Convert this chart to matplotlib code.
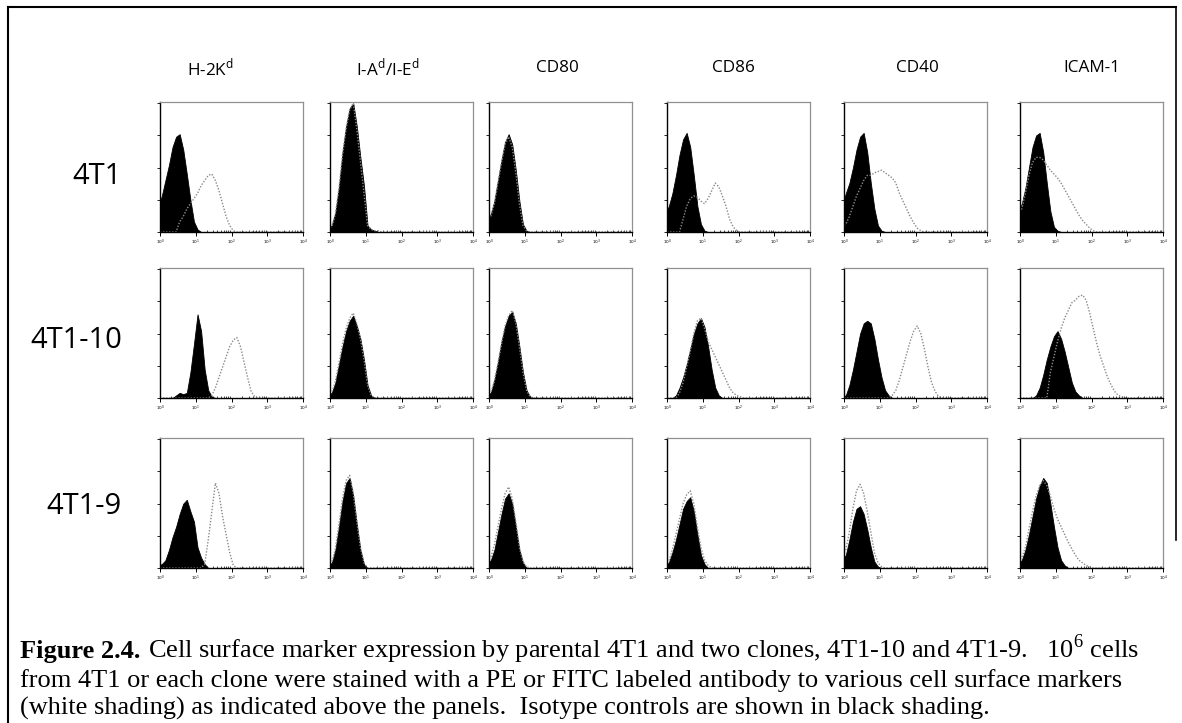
import matplotlib
matplotlib.use("Agg")
import matplotlib.pyplot as plt
import numpy as np
from matplotlib.ticker import LogLocator, NullFormatter, FixedLocator

# markers (columns) and cell lines (rows)
markers = ["H-2K$^\\mathregular{d}$", "I-A$^\\mathregular{d}$/I-E$^\\mathregular{d}$",
           "CD80", "CD86", "CD40", "ICAM-1"]
cell_lines = ["4T1", "4T1-10", "4T1-9"]

# histogram counts, % of full scale, in 0.1-decade bins starting at 10^0
iso_4t1 = [
    [28, 40, 52, 66, 74, 76, 64, 45, 25, 8, 2],
    [5, 15, 35, 62, 82, 96, 100, 82, 58, 36, 5, 2, 1],
    [14, 24, 40, 56, 70, 76, 68, 48, 24, 6, 1],
    [20, 30, 44, 60, 72, 77, 66, 44, 20, 6, 1],
    [30, 38, 50, 64, 74, 77, 62, 38, 18, 5, 1],
    [22, 34, 50, 66, 75, 77, 62, 38, 16, 4, 1],
]
stain_4t1 = [
    [0, 0, 0, 0, 0, 8, 12, 18, 22, 26, 30, 36, 40, 44, 45, 40, 32, 22, 12, 5, 1],
    [4, 14, 34, 60, 80, 95, 100, 80, 55, 30, 5, 2, 1, 1],
    [12, 22, 38, 54, 68, 74, 66, 46, 22, 5, 1],
    [0, 0, 0, 0, 10, 20, 26, 28, 27, 24, 22, 26, 32, 38, 35, 28, 20, 10, 4, 1],
    [6, 12, 20, 28, 34, 40, 44, 44, 46, 47, 48, 46, 44, 42, 38, 30, 24, 18, 12, 7, 3, 1],
    [18, 30, 44, 54, 58, 58, 56, 52, 48, 45, 42, 38, 33, 28, 23, 18, 13, 9, 6, 3, 1],
]
iso_4t1_10 = [
    [0, 0, 0, 0, 2, 4, 3, 4, 20, 42, 65, 52, 22, 6, 1],
    [4, 12, 26, 40, 52, 60, 64, 56, 46, 30, 10, 2],
    [4, 14, 28, 44, 56, 64, 67, 58, 40, 20, 6, 1],
    [0, 0, 2, 8, 16, 26, 38, 50, 58, 62, 55, 40, 22, 8, 2],
    [2, 10, 22, 36, 50, 58, 60, 58, 46, 30, 16, 6, 2],
    [0, 0, 0, 0, 2, 8, 18, 30, 40, 48, 52, 46, 36, 24, 12, 5, 2],
]
stain_4t1_10 = [
    [0, 0, 0, 0, 0, 0, 0, 0, 0, 0, 0, 0, 0, 0, 2, 8, 16, 24, 32, 40, 45, 47, 40, 28, 16, 5, 1],
    [4, 13, 27, 42, 54, 62, 66, 58, 46, 30, 10, 2],
    [4, 13, 27, 42, 56, 64, 68, 58, 40, 20, 6, 1],
    [0, 0, 0, 4, 12, 24, 36, 50, 60, 62, 54, 44, 38, 32, 26, 20, 14, 8, 4, 2, 1],
    [0, 0, 0, 0, 0, 0, 0, 0, 0, 0, 0, 0, 0, 2, 6, 14, 24, 34, 44, 52, 56, 50, 38, 24, 12, 5, 1],
    [0, 0, 0, 0, 0, 0, 0, 0, 20, 32, 44, 54, 62, 68, 74, 76, 79, 80, 76, 66, 54, 42, 32, 24, 16, 10, 5, 2, 1],
]
iso_4t1_9 = [
    [3, 6, 14, 24, 32, 42, 50, 53, 44, 36, 16, 8, 3],
    [4, 14, 32, 52, 66, 70, 56, 34, 14, 3],
    [6, 14, 28, 42, 54, 58, 50, 32, 14, 4],
    [4, 12, 22, 34, 46, 52, 55, 44, 26, 10, 3],
    [10, 22, 36, 46, 48, 42, 30, 16, 5, 1],
    [6, 14, 26, 40, 54, 64, 70, 66, 50, 32, 16, 6, 2],
]
stain_4t1_9 = [
    [0, 0, 0, 0, 0, 0, 0, 0, 0, 0, 0, 0, 3, 22, 44, 66, 58, 40, 26, 12, 2],
    [4, 15, 34, 54, 68, 72, 58, 36, 16, 4],
    [8, 18, 32, 46, 58, 63, 54, 36, 16, 5, 1],
    [5, 14, 26, 38, 50, 57, 60, 50, 32, 16, 6, 2],
    [14, 28, 46, 60, 65, 58, 44, 28, 12, 4, 1],
    [8, 16, 30, 44, 56, 64, 68, 64, 56, 46, 38, 32, 26, 20, 15, 10, 6, 4, 2, 1],
]

iso_rows = [iso_4t1, iso_4t1_10, iso_4t1_9]
stain_rows = [stain_4t1, stain_4t1_10, stain_4t1_9]

n_bins = 40
centers = 10 ** ((np.arange(n_bins) + 0.5) * 0.1)
# run the curve out to the left edge of the axis
xs = np.concatenate([[1.0], centers])


def pad(counts):
    out = np.zeros(n_bins)
    out[:len(counts)] = counts
    return np.concatenate([[counts[0] * 0.85], out])


W, H = 1182, 723
fig = plt.figure(figsize=(W / 100, H / 100), dpi=100)
fig.patch.set_facecolor("white")

col_x = [160, 330, 489, 667, 844, 1020]
row_y = [102, 268, 438]
pw, ph = 143, 130

for r in range(3):
    for c in range(6):
        x0, y0 = col_x[c], row_y[r]
        ax = fig.add_axes([x0 / W, 1 - (y0 + ph) / H, pw / W, ph / H])
        iso = pad(iso_rows[r][c])
        stain = pad(stain_rows[r][c])
        # isotype control, black filled
        ax.fill_between(xs, 0, iso, color="black", lw=0.6, edgecolor="black")
        # stained sample, dotted outline
        ax.plot(xs, stain, color="#8a8a8a", lw=1.0, ls=(0, (1, 1.2)))
        ax.set_xscale("log")
        ax.set_xlim(1, 1e4)
        ax.set_ylim(0, 101)
        for s in ["left", "bottom"]:
            ax.spines[s].set_color("black")
            ax.spines[s].set_linewidth(1.0)
        for s in ["top", "right"]:
            ax.spines[s].set_color("#909090")
            ax.spines[s].set_linewidth(0.9)
            ax.spines[s].set_linestyle((0, (2, 1)))
        ax.xaxis.set_major_locator(FixedLocator([1, 10, 100, 1000, 1e4]))
        ax.xaxis.set_minor_locator(LogLocator(base=10, subs=np.arange(2, 10)))
        ax.xaxis.set_minor_formatter(NullFormatter())
        ax.set_xticklabels(["10$^0$", "10$^1$", "10$^2$", "10$^3$", "10$^4$"])
        ax.tick_params(axis="x", which="major", length=3, width=0.7,
                       labelsize=3, pad=1, colors="black")
        ax.tick_params(axis="x", which="minor", length=1.5, width=0.5,
                       direction="in")
        ax.set_yticks([0, 25, 50, 75, 100])
        ax.set_yticklabels([])
        ax.tick_params(axis="y", length=2, width=0.6)

# column headings
title_x = [210, 388, 557, 733, 917, 1092]
for tx, name in zip(title_x, markers):
    fig.text(tx / W, 1 - 68 / H, name, ha="center", va="center",
             fontsize=12.3, family="Open Sans")

# row labels
label_y = [176, 340, 506]
for ly, name in zip(label_y, cell_lines):
    fig.text(122 / W, 1 - ly / H, name, ha="right", va="center",
             fontsize=21, family="Open Sans")

# caption
cap_font = "Liberation Serif"
cap_size = 19
renderer = fig.canvas.get_renderer()
base = [658, 687, 715]
bold = fig.text(20 / W, 1 - base[0] / H, "Figure 2.4.", ha="left", va="baseline",
                fontsize=cap_size, family=cap_font, weight="bold")
bb = bold.get_window_extent(renderer)
fig.text(bb.x1 / W + 8 / W, 1 - base[0] / H,
         "Cell surface marker expression by parental 4T1 and two clones, "
         "4T1-10 and 4T1-9.   10$^{\\mathregular{6}}$ cells",
         ha="left", va="baseline", fontsize=cap_size, family=cap_font)
fig.text(20 / W, 1 - base[1] / H,
         "from 4T1 or each clone were stained with a PE or FITC labeled "
         "antibody to various cell surface markers",
         ha="left", va="baseline", fontsize=cap_size, family=cap_font)
fig.text(20 / W, 1 - base[2] / H,
         "(white shading) as indicated above the panels.  Isotype controls "
         "are shown in black shading.",
         ha="left", va="baseline", fontsize=cap_size, family=cap_font)

# outer frame
frame = fig.add_axes([0, 0, 1, 1], facecolor="none")
frame.set_xlim(0, W)
frame.set_ylim(H, 0)
frame.axis("off")
frame.plot([8, 1176], [7, 7], color="black", lw=1.5)
frame.plot([8, 8], [7, H], color="black", lw=1.5)
frame.plot([1176, 1176], [7, 540], color="black", lw=1.2)

fig.savefig("out.png", dpi=100)
